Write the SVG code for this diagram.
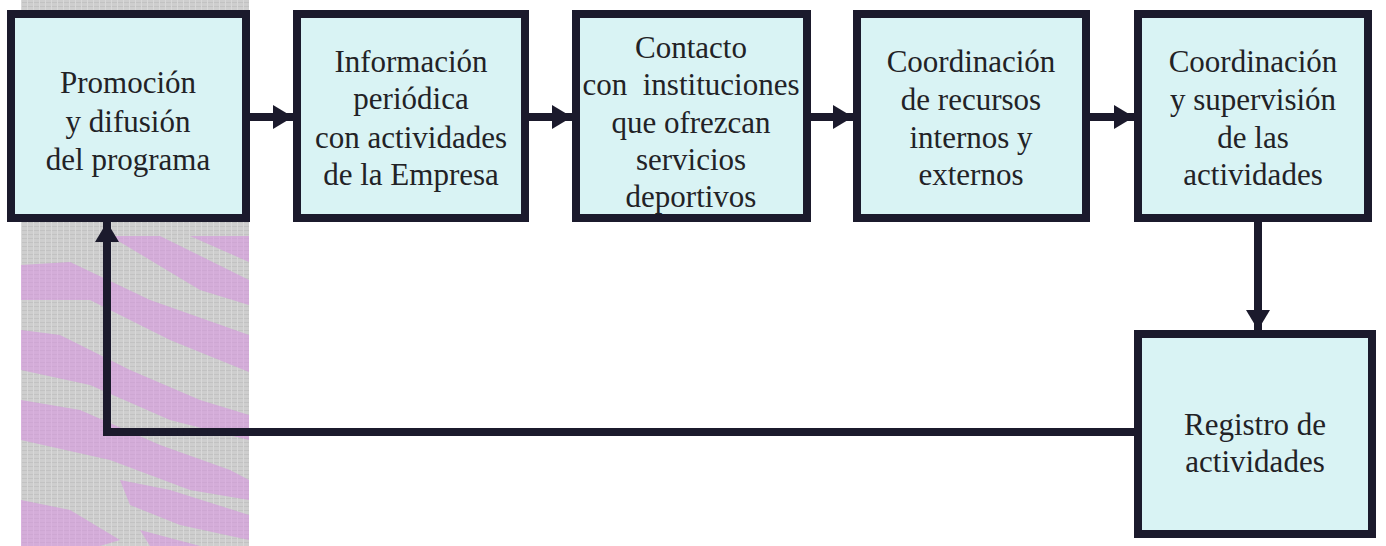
<svg xmlns="http://www.w3.org/2000/svg" width="1386" height="546" viewBox="0 0 1386 546">
<defs>
<style>
.box{fill:#d9f3f4;stroke:#1b1a2c;stroke-width:8}
.t{font-family:"Liberation Serif","Times New Roman",serif;font-size:31px;fill:#222226;text-anchor:middle}
.c{stroke:#1b1a2c;stroke-width:8;fill:none}
.streak{fill:#d98be3;opacity:0.5}
</style>
<marker id="ah" markerUnits="userSpaceOnUse" markerWidth="20" markerHeight="24" refX="20" refY="12" orient="auto">
<path d="M0,0 L20,12 L0,24 Z" fill="#1b1a2c"/>
</marker>
<pattern id="scan" width="6" height="4" patternUnits="userSpaceOnUse">
<rect width="6" height="4" fill="#cecece"/>
<rect width="6" height="1" y="2" fill="#c2c2c2"/>
<rect width="1" height="4" x="3" fill="#d8d8d8"/>
</pattern>
</defs>
<rect width="1386" height="546" fill="#ffffff"/>
<g id="background-stripe">
<rect x="21" y="0" width="228" height="546" fill="url(#scan)"/>
<polygon class="streak" points="110,236 160,236 249,280 249,305 200,290"/>
<polygon class="streak" points="190,236 249,236 249,262"/>
<polygon class="streak" points="21,265 70,262 150,300 249,335 249,372 170,340 90,300 21,300"/>
<polygon class="streak" points="21,330 60,335 130,370 200,400 249,415 249,440 170,420 90,385 21,370"/>
<polygon class="streak" points="21,400 80,410 160,445 230,470 249,480 249,500 190,490 110,460 21,440"/>
<polygon class="streak" points="120,480 170,490 249,515 249,540 180,525 130,505"/>
<polygon class="streak" points="21,500 70,510 120,540 100,546 21,546"/>
<polygon class="streak" points="140,530 200,546 150,546"/>
</g>
<g id="connectors">
<line class="c" x1="250" y1="117" x2="293" y2="117" marker-end="url(#ah)"/>
<line class="c" x1="529" y1="117" x2="572" y2="117" marker-end="url(#ah)"/>
<line class="c" x1="811" y1="117" x2="853" y2="117" marker-end="url(#ah)"/>
<line class="c" x1="1090" y1="117" x2="1134" y2="117" marker-end="url(#ah)"/>
<line class="c" x1="1258" y1="222" x2="1258" y2="330" marker-end="url(#ah)"/>
<polyline class="c" points="1134,432 107,432 107,222" marker-end="url(#ah)"/>
</g>
<g id="n1">
<rect class="box" x="11" y="14" width="235" height="204"/>
<text class="t" x="128" y="93">Promoción</text>
<text class="t" x="128" y="132">y difusión</text>
<text class="t" x="128" y="170">del programa</text>
</g>
<g id="n2">
<rect class="box" x="297" y="14" width="228" height="204"/>
<text class="t" x="411" y="72">Información</text>
<text class="t" x="411" y="109">periódica</text>
<text class="t" x="411" y="148">con actividades</text>
<text class="t" x="411" y="185">de la Empresa</text>
</g>
<g id="n3">
<rect class="box" x="576" y="14" width="231" height="204"/>
<text class="t" x="691" y="58">Contacto</text>
<text class="t" x="691" y="95" style="white-space:pre">con  instituciones</text>
<text class="t" x="691" y="133">que ofrezcan</text>
<text class="t" x="691" y="170">servicios</text>
<text class="t" x="691" y="207">deportivos</text>
</g>
<g id="n4">
<rect class="box" x="857" y="14" width="229" height="204"/>
<text class="t" x="971" y="72">Coordinación</text>
<text class="t" x="971" y="110">de recursos</text>
<text class="t" x="971" y="148">internos y</text>
<text class="t" x="971" y="185">externos</text>
</g>
<g id="n5">
<rect class="box" x="1138" y="14" width="230" height="204"/>
<text class="t" x="1253" y="72">Coordinación</text>
<text class="t" x="1253" y="110">y supervisión</text>
<text class="t" x="1253" y="148">de las</text>
<text class="t" x="1253" y="185">actividades</text>
</g>
<g id="n6">
<rect class="box" x="1138" y="334" width="234" height="200"/>
<text class="t" x="1255" y="435">Registro de</text>
<text class="t" x="1255" y="472">actividades</text>
</g>
</svg>
